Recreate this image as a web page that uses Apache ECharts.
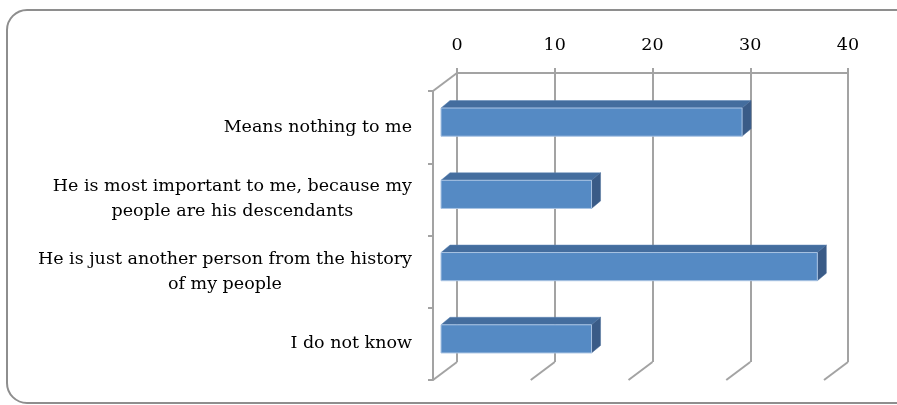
<!DOCTYPE html>
<html><head><meta charset="utf-8">
<script src="https://cdn.jsdelivr.net/npm/echarts@6/dist/echarts.min.js"></script>
<style>html,body{margin:0;padding:0;background:#fff}#c{width:897px;height:405px}</style>
</head><body><div id="c"></div>
<script>
const categories = [
  'Means nothing to me',
  'He is most important to me, because my\npeople are his descendants',
  'He is just another person from the history\nof my people',
  'I do not know'
];
const values = [30.8, 15.4, 38.5, 15.4];
const tickValues = [0, 10, 20, 30, 40];
const axisMin = 0, axisMax = 40, axisInterval = 10;

const FONT = 'DejaVu Serif';
const GRID_COLOR = '#a3a3a3';
const DEPTH = [-24, 18];

const chart = echarts.init(document.getElementById('c'), null, {renderer: 'canvas'});

const wallData = tickValues.map(v => [v, 0]).concat([[axisMin, 1]]);

const option = {
  animation: false,
  backgroundColor: '#fff',
  graphic: [{
    type: 'rect', z: 0,
    shape: {x: 7, y: 10, width: 920, height: 393, r: 20},
    style: {fill: 'none', stroke: '#8e8e8e', lineWidth: 2}
  }],
  grid: [
    {left: 457, right: 49, top: 73, bottom: 43},
    {left: 433, right: 73, top: 91, bottom: 25}
  ],
  xAxis: [
    {
      gridIndex: 0, type: 'value', position: 'top',
      min: axisMin, max: axisMax, interval: axisInterval,
      axisLine: {show: true, onZero: false, lineStyle: {color: GRID_COLOR, width: 2}},
      axisTick: {show: true, length: 5, lineStyle: {color: GRID_COLOR, width: 2}},
      splitLine: {show: true, lineStyle: {color: GRID_COLOR, width: 2}},
      axisLabel: {fontFamily: FONT, fontSize: 17.5, color: '#000', margin: 19}
    },
    {gridIndex: 1, type: 'value', min: axisMin, max: axisMax, show: false}
  ],
  yAxis: [
    {gridIndex: 0, type: 'value', min: 0, max: 1, show: false},
    {
      gridIndex: 1, type: 'category', data: categories, inverse: true,
      axisLine: {show: true, onZero: false, lineStyle: {color: GRID_COLOR, width: 2}},
      axisTick: {show: true, length: 5, lineStyle: {color: GRID_COLOR, width: 2}},
      splitLine: {show: false},
      axisLabel: {
        margin: 21, color: '#000',
        formatter: v => v.split('\n').map(s => '{c|' + s + '}').join('\n'),
        rich: {c: {align: 'center', fontFamily: FONT, fontSize: 17.5, lineHeight: 25, color: '#000'}}
      }
    }
  ],
  series: [
    {
      type: 'custom', xAxisIndex: 0, yAxisIndex: 0, z: 1,
      data: wallData,
      renderItem: (params, api) => {
        const p = api.coord([api.value(0), api.value(1)]);
        return {
          type: 'line',
          shape: {x1: p[0], y1: p[1], x2: p[0] + DEPTH[0], y2: p[1] + DEPTH[1]},
          style: {stroke: GRID_COLOR, lineWidth: 2}
        };
      }
    },
    {
      type: 'custom', xAxisIndex: 1, yAxisIndex: 1, z: 5,
      data: values.map((v, i) => [v, i]),
      renderItem: (params, api) => {
        const v = api.value(0), i = api.value(1);
        const p0 = api.coord([0, i]);
        const p1 = api.coord([v, i]);
        const band = api.size([0, 1])[1];
        const h = band * 0.39;
        const sx = 8, sy = -5;
        const dx = 9, dy = -7.5;
        const x0 = p0[0] + sx, x1 = p1[0] + sx, yc = p0[1] + sy;
        const yt = yc - h / 2, yb = yc + h / 2;
        return {
          type: 'group',
          children: [
            {type: 'polygon', shape: {points: [[x0, yt], [x0 + dx, yt + dy], [x1 + dx, yt + dy], [x1, yt]]},
             style: {fill: '#446d9e', stroke: '#5b84b5', lineWidth: 0.5}},
            {type: 'polygon', shape: {points: [[x1, yt], [x1 + dx, yt + dy], [x1 + dx, yb + dy], [x1, yb]]},
             style: {fill: '#3a5b87', stroke: '#4a6c98', lineWidth: 0.5}},
            {type: 'rect', shape: {x: x0, y: yt, width: x1 - x0, height: h},
             style: {fill: '#558ac4', stroke: '#a9c3e3', lineWidth: 1}}
          ]
        };
      }
    }
  ]
};
chart.setOption(option);
</script>
</body></html>
